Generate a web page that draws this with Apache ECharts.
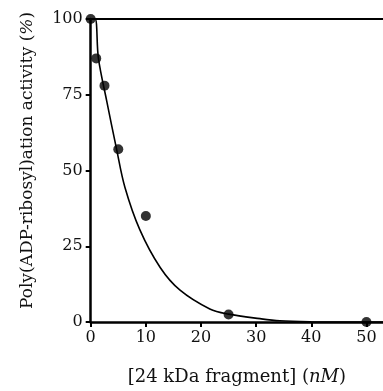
<!DOCTYPE html>
<html><head><meta charset="utf-8">
<script src="https://cdn.jsdelivr.net/npm/echarts@6/dist/echarts.min.js"></script>
<style>html,body{margin:0;padding:0;background:#fff}#c{width:383px;height:391px}</style>
</head><body><div id="c"></div>
<script>
var concentrations = [0, 1, 2.5, 5, 10, 25, 50];
var activity = [100, 87, 78, 57, 35, 2.5, 0];
var fitX = [0, 0.8, 1.4, 2.9, 4.7, 6.2, 8.9, 12.6, 16.2, 21.6, 25, 30.7, 34.3, 40, 50, 53];
var fitY = [100, 100, 87, 73, 57, 44.5, 30.5, 18, 10.5, 4.3, 2.6, 1.1, 0.4, 0.1, 0, 0];
var controlX = [0, 53];
var controlY = [100, 100];
var xTicks = [0, 10, 20, 30, 40, 50];

var font = 'DejaVu Serif';
var chart = echarts.init(document.getElementById('c'));
function pairs(a, b) { return a.map(function (v, i) { return [v, b[i]]; }); }
chart.setOption({
  animation: false,
  grid: { left: 90.7, right: 0, top: 19, bottom: 68.3 },
  xAxis: {
    type: 'value', min: 0, max: 53,
    name: '[24 kDa fragment] ({i|nM})', nameLocation: 'middle', nameGap: 46,
    nameTextStyle: { fontFamily: font, fontSize: 18, color: '#111',
      rich: { i: { fontFamily: font, fontSize: 18, fontStyle: 'italic', color: '#111' } } },
    axisLine: { lineStyle: { color: '#000', width: 2.5 } },
    axisTick: { customValues: xTicks, length: 5, lineStyle: { color: '#000', width: 2 } },
    axisLabel: { customValues: xTicks, fontFamily: font, fontSize: 16, color: '#111', margin: 8 },
    splitLine: { show: false }
  },
  yAxis: {
    type: 'value', min: 0, max: 100, interval: 25,
    name: 'Poly(ADP-ribosyl)ation activity ({i|%})', nameLocation: 'middle', nameGap: 55,
    nameTextStyle: { fontFamily: font, fontSize: 17, color: '#111', padding: [0, 0, 0, 20],
      rich: { i: { fontFamily: font, fontSize: 17, fontStyle: 'italic', color: '#111' } } },
    axisLine: { lineStyle: { color: '#000', width: 2.5 } },
    axisTick: { length: 5, lineStyle: { color: '#000', width: 2 } },
    axisLabel: { fontFamily: font, fontSize: 16, color: '#111', margin: 8 },
    splitLine: { show: false }
  },
  series: [
    { type: 'line', data: pairs(controlX, controlY), showSymbol: false, symbol: 'none',
      lineStyle: { color: '#000', width: 2 }, clip: false },
    { type: 'line', data: pairs(fitX, fitY), smooth: 0.35, showSymbol: false, symbol: 'none',
      lineStyle: { color: '#000', width: 1.6 } },
    { type: 'scatter', data: pairs(concentrations, activity), symbol: 'circle', symbolSize: 10,
      itemStyle: { color: '#000' }, clip: false, z: 5 }
  ]
});
</script></body></html>
